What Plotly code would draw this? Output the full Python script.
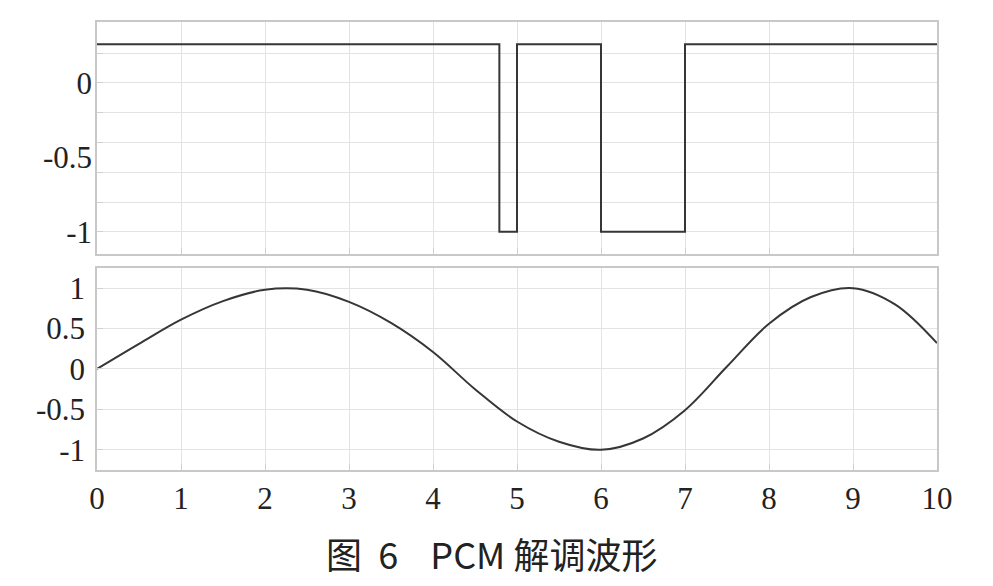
import plotly.graph_objects as go

# ---- data ----
pcm_t = [0, 4.79, 5.0, 6.0, 7.0, 10.0]
pcm_level = [0.26, -1.0, 0.26, -1.0, 0.26, 0.26]

demod_t = [0, 0.5, 1.0, 1.5, 2.0, 2.5, 3.0, 3.5, 4.0, 4.5, 5.0,
           5.5, 6.0, 6.5, 7.0, 7.5, 8.0, 8.5, 9.0, 9.5, 10.0]
demod_v = [0.0, 0.31, 0.61, 0.84, 0.98, 0.98, 0.83, 0.57, 0.21, -0.25, -0.65,
           -0.90, -1.0, -0.86, -0.51, 0.03, 0.56, 0.89, 1.0, 0.80, 0.32]

x_ticks = list(range(0, 11))
x_labels = [str(v) for v in x_ticks]
top_label_vals = [-1, -0.5, 0]
top_label_text = ["-1", "-0.5", "0"]
top_grid_vals = [-1.0, -0.8, -0.6, -0.4, -0.2, 0.0, 0.2]
bot_ticks = [-1, -0.5, 0, 0.5, 1]
bot_labels = ["-1", "-0.5", "0", "0.5", "1"]
caption = "图\u00a0\u00a06\u00a0\u00a0\u00a0\u00a0PCM\u00a0解调波形"

LINE = "#363636"
GRID = "#e3e3e3"
FRAME = "#c8c8c8"
TICKFONT = dict(family="Liberation Serif, Times New Roman, serif", size=31, color="#222222")

fig = go.Figure()
fig.add_trace(go.Scatter(x=pcm_t, y=pcm_level, mode="lines", line=dict(color=LINE, width=2, shape="hv"),
                         xaxis="x", yaxis="y", showlegend=False, hoverinfo="skip"))
fig.add_trace(go.Scatter(x=[], y=[], mode="lines", xaxis="x", yaxis="y3", showlegend=False))
fig.add_trace(go.Scatter(x=demod_t, y=demod_v, mode="lines", line=dict(color=LINE, width=2, shape="spline", smoothing=1.0),
                         xaxis="x2", yaxis="y2", showlegend=False, hoverinfo="skip"))

common_x = dict(range=[0, 10], tickvals=x_ticks, showgrid=True, gridcolor=GRID, gridwidth=1,
                showline=True, linecolor=FRAME, linewidth=1.5, mirror=True, zeroline=False,
                ticks="inside", ticklen=6, tickcolor="#d0d0d0", automargin=False)

fig.update_layout(
    width=977, height=570,
    margin=dict(l=89, r=48, t=14, b=108),
    paper_bgcolor="white", plot_bgcolor="white",
    xaxis=dict(**common_x, domain=[0, 1], anchor="y", showticklabels=False),
    yaxis=dict(domain=[0.482, 1.0], anchor="x", range=[-1.15, 0.41],
               tickvals=top_grid_vals, ticktext=[""] * len(top_grid_vals),
               showgrid=True, gridcolor=GRID, zeroline=False,
               showline=True, linecolor=FRAME, linewidth=1.5, mirror=True,
               ticks="inside", ticklen=6, tickcolor="#d0d0d0", automargin=False),
    yaxis3=dict(overlaying="y", anchor="x", side="left", range=[-1.15, 0.41],
                tickvals=top_label_vals, ticktext=top_label_text, tickfont=TICKFONT,
                showgrid=False, zeroline=False, showline=False, ticks="",
                ticklabelstandoff=4, automargin=False),
    xaxis2=dict(**common_x, domain=[0, 1], anchor="y2", ticktext=x_labels, tickfont=TICKFONT),
    yaxis2=dict(domain=[0, 0.451], anchor="x2", range=[-1.25, 1.25],
                tickvals=bot_ticks, ticktext=bot_labels, tickfont=TICKFONT,
                showgrid=True, gridcolor=GRID, zeroline=False,
                showline=True, linecolor=FRAME, linewidth=1.5, mirror=True,
                ticks="inside", ticklen=6, tickcolor="#d0d0d0",
                ticklabelstandoff=4, automargin=False),
    annotations=[dict(text=caption, xref="paper", yref="paper", x=0.470, y=-0.248,
                      xanchor="center", yanchor="bottom", showarrow=False,
                      font=dict(family="Noto Sans CJK SC", size=36, color="#222222"))],
)

fig.write_html("out.html")
